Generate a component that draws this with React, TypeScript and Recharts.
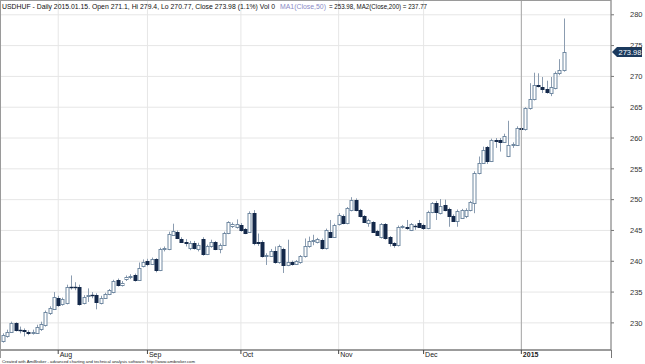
import React from 'react';
import { ComposedChart, Bar, XAxis, YAxis, CartesianGrid, ReferenceLine } from 'recharts';

// USDHUF daily, 2014.07.15 - 2015.01.15
const OPEN = [
  227.0, 227.8, 228.6, 230.0, 228.9, 228.8, 228.6, 228.3, 228.4, 229.0,
  229.7, 231.6, 232.3, 234.0, 233.1, 233.3, 235.8, 235.9, 235.9, 233.3,
  234.3, 234.5, 234.6, 233.3, 234.1, 234.7, 235.0, 236.9, 236.1, 237.2,
  237.4, 237.7, 237.0, 239.2, 240.1, 239.6, 240.3, 238.6, 242.0, 242.0,
  244.3, 244.8, 243.6, 243.1, 242.2, 243.0, 242.0, 243.6, 241.2, 242.4,
  243.1, 242.0, 242.7, 244.6, 245.7, 245.6, 245.9, 245.2, 244.8, 247.8,
  243.2, 243.2, 240.9, 240.9, 241.7, 239.8, 242.0, 239.4, 239.9, 239.6,
  239.8, 240.8, 242.4, 243.3, 243.2, 243.5, 242.1, 244.8, 244.0, 246.0,
  247.4, 246.2, 248.3, 250.0, 248.3, 247.3, 246.2, 246.3, 244.9, 243.9,
  246.0, 243.9, 242.9, 242.7, 245.6, 245.6, 245.1, 245.7, 246.2, 245.9,
  245.4, 248.0, 249.4, 247.8, 249.2, 248.5, 247.4, 246.6, 247.1, 247.3,
  248.3, 249.5, 254.3, 256.0, 258.5, 256.3, 259.6, 259.7, 259.4, 257.1,
  258.9, 258.9, 261.6, 261.4, 264.8, 266.3, 268.6, 268.3, 267.9, 267.3,
  268.1, 270.5, 271.1,
];
const HIGH = [
  228.3, 228.9, 230.2, 230.1, 229.4, 229.1, 228.8, 228.9, 229.7, 230.2,
  232.0, 232.7, 235.0, 234.4, 234.1, 236.2, 237.7, 236.6, 236.2, 234.5,
  235.6, 235.0, 234.8, 234.4, 234.9, 235.5, 237.0, 237.2, 236.8, 237.7,
  237.9, 238.0, 239.8, 240.3, 240.4, 240.6, 240.5, 242.2, 242.4, 244.8,
  246.1, 245.0, 243.9, 243.6, 243.3, 243.3, 243.0, 243.9, 242.7, 243.5,
  243.3, 242.9, 244.8, 246.5, 246.3, 246.8, 246.2, 245.4, 248.1, 248.3,
  244.5, 243.4, 241.3, 242.0, 242.4, 242.7, 242.2, 243.5, 240.1, 240.2,
  241.0, 243.7, 244.0, 244.3, 243.8, 243.7, 245.3, 246.7, 246.1, 247.8,
  247.6, 248.8, 250.4, 250.2, 248.5, 247.5, 246.9, 246.5, 245.1, 246.2,
  246.2, 244.1, 243.1, 245.8, 245.9, 246.7, 246.2, 246.0, 246.7, 246.1,
  248.2, 249.6, 249.8, 250.1, 250.0, 248.7, 247.6, 248.4, 248.5, 248.6,
  249.8, 254.6, 257.0, 258.6, 258.7, 259.9, 260.0, 260.0, 260.7, 262.8,
  259.3, 261.9, 261.8, 265.0, 268.9, 270.6, 270.5, 269.9, 269.3, 269.9,
  270.8, 272.8, 279.4,
];
const LOW = [
  226.8, 227.6, 228.4, 228.6, 228.3, 227.8, 228.0, 228.1, 228.2, 228.7,
  229.4, 231.3, 232.1, 232.6, 232.8, 233.0, 235.4, 235.3, 232.8, 233.0,
  233.4, 234.0, 232.2, 233.0, 233.9, 234.5, 234.8, 235.9, 235.9, 236.8,
  237.1, 236.7, 236.8, 239.0, 239.2, 239.4, 238.2, 238.4, 241.6, 241.8,
  244.1, 243.6, 243.0, 242.4, 241.8, 241.9, 241.6, 240.9, 241.0, 242.2,
  241.8, 241.3, 242.5, 244.4, 245.4, 245.3, 244.8, 244.4, 244.6, 242.6,
  242.5, 240.6, 239.4, 240.7, 239.6, 239.6, 238.1, 239.2, 239.3, 239.4,
  239.6, 240.6, 242.2, 242.6, 242.9, 241.9, 241.9, 243.8, 243.8, 245.8,
  246.0, 246.0, 248.1, 248.1, 247.1, 246.2, 245.6, 244.6, 244.1, 243.7,
  243.5, 242.4, 242.2, 242.4, 245.3, 245.1, 244.9, 245.1, 245.4, 245.1,
  245.2, 247.8, 246.7, 247.6, 248.1, 245.6, 246.4, 245.6, 246.9, 247.0,
  248.1, 247.8, 254.1, 255.8, 255.8, 256.1, 258.4, 257.8, 259.2, 256.9,
  258.4, 258.7, 261.3, 261.2, 264.6, 266.1, 268.2, 267.3, 267.2, 266.8,
  267.9, 270.2, 270.77,
];
const CLOSE = [
  228.0, 228.6, 230.0, 228.9, 228.8, 228.7, 228.3, 228.6, 229.4, 229.9,
  231.8, 232.4, 234.2, 232.9, 233.8, 235.8, 235.9, 235.8, 233.1, 234.2,
  234.5, 234.6, 233.4, 234.1, 234.7, 235.3, 236.8, 236.1, 236.5, 237.5,
  237.6, 236.9, 238.9, 239.8, 239.5, 240.3, 238.6, 242.0, 242.1, 244.5,
  244.9, 243.8, 243.2, 243.0, 243.0, 242.2, 242.7, 241.1, 242.5, 243.1,
  242.0, 242.7, 244.6, 246.3, 246.0, 246.0, 245.1, 244.6, 247.8, 242.9,
  242.9, 240.9, 241.0, 241.7, 239.8, 242.4, 239.4, 239.8, 239.6, 240.0,
  240.8, 242.4, 243.3, 243.4, 243.6, 242.1, 245.1, 244.0, 245.9, 247.5,
  246.2, 248.6, 250.0, 248.3, 247.3, 246.4, 246.7, 244.8, 244.3, 246.0,
  243.7, 242.9, 242.6, 245.6, 245.7, 245.4, 246.0, 245.8, 245.6, 245.4,
  248.0, 249.4, 248.0, 248.9, 248.3, 247.3, 246.6, 248.2, 248.3, 248.4,
  249.6, 254.4, 256.0, 258.1, 256.3, 259.7, 259.5, 259.3, 260.3, 258.9,
  259.0, 261.6, 261.5, 264.8, 266.3, 268.6, 268.4, 268.0, 267.4, 268.2,
  270.5, 271.1, 273.98,
];

const MONTH_LABELS = ['Aug', 'Sep', 'Oct', 'Nov', 'Dec', '2015'];
const MONTH_START = [13, 34, 56, 79, 99, 122];
const PRICE_TICKS = [230, 235, 240, 245, 250, 255, 260, 265, 270, 275, 280];

const LAST_CLOSE = CLOSE[CLOSE.length - 1];

const data = OPEN.map((o, i) => ({
  idx: i,
  open: o,
  high: HIGH[i],
  low: LOW[i],
  close: CLOSE[i],
  range: [LOW[i], HIGH[i]],
}));

const W = 645;
const H = 364;
const PLOT_RIGHT = 611;
const PLOT_BOTTOM = 350;

const UP_STROKE = '#7189a2';
const WICK = '#8b9cb0';
const DOWN_FILL = '#14294a';

const Candle = (props: any) => {
  const { x, y, width, height, payload } = props;
  if (height == null || !payload) return null;
  const { open, close, high, low } = payload;
  const top = Math.min(y, y + height);
  const h = Math.abs(height);
  const px = (v: number) => (high === low ? top : top + ((high - v) / (high - low)) * h);
  const cx = Math.round(x + width / 2) + 0.5;
  const up = close >= open;
  const bTop = Math.round(px(Math.max(open, close))) + 0.5;
  const bBot = Math.round(px(Math.min(open, close))) + 0.5;
  const bodyH = bBot - bTop;
  return (
    <g>
      <line x1={cx} x2={cx} y1={top} y2={top + h} stroke={WICK} strokeWidth={1} />
      {bodyH < 1 ? (
        <line x1={cx - 2} x2={cx + 2} y1={bTop} y2={bTop} stroke={DOWN_FILL} strokeWidth={1.4} />
      ) : (
        <rect
          x={cx - 1.5}
          y={bTop}
          width={3}
          height={bodyH}
          fill={up ? '#ffffff' : DOWN_FILL}
          stroke={up ? UP_STROKE : DOWN_FILL}
          strokeWidth={1}
        />
      )}
    </g>
  );
};

const MonthTick = (props: any) => {
  const { x, payload } = props;
  const k = MONTH_START.indexOf(payload.value);
  if (k < 0) return null;
  return (
    <g>
      <line x1={x} x2={x} y1={PLOT_BOTTOM} y2={PLOT_BOTTOM + 4} stroke="#444" />
      <text
        x={x + 1.5}
        y={PLOT_BOTTOM + 6.5}
        fontSize={7}
        fontWeight={k === MONTH_LABELS.length - 1 ? 'bold' : 'normal'}
        fill="#222"
        fontFamily="'Liberation Sans', Arial, sans-serif"
      >
        {MONTH_LABELS[k]}
      </text>
    </g>
  );
};

const PriceTag = (props: any) => {
  const vb = props.viewBox || {};
  const y = vb.y;
  if (y == null) return null;
  const x0 = (vb.x ?? 0) + (vb.width ?? PLOT_RIGHT) + 1;
  return (
    <g>
      <polygon
        points={`${x0},${y} ${x0 + 5},${y - 5} ${x0 + 30},${y - 5} ${x0 + 30},${y + 5} ${x0 + 5},${y + 5}`}
        fill="#1b3a5e"
      />
      <text
        x={x0 + 18}
        y={y + 2.7}
        fontSize={7.5}
        textAnchor="middle"
        fill="#ffffff"
        fontFamily="'Liberation Sans', Arial, sans-serif"
      >
        {LAST_CLOSE.toFixed(2)}
      </text>
    </g>
  );
};

export default function App() {
  const font = "'Liberation Sans', Arial, sans-serif";
  return (
    <div style={{ position: 'absolute', left: 0, top: 0, width: W, height: H, background: '#fff' }}>
      <ComposedChart
        width={W}
        height={H}
        data={data}
        margin={{ top: 0, right: 0, bottom: 0, left: 0 }}
      >
        <CartesianGrid stroke="#e6e6e6" strokeWidth={1} />
        <XAxis
          dataKey="idx"
          type="number"
          domain={[-0.7, 143.1]}
          ticks={MONTH_START}
          interval={0}
          height={H - PLOT_BOTTOM}
          tickLine={false}
          tickSize={0}
          axisLine={{ stroke: '#444' }}
          tick={<MonthTick />}
        />
        <YAxis
          orientation="right"
          type="number"
          domain={[225.6, 282.4]}
          ticks={PRICE_TICKS}
          width={W - PLOT_RIGHT}
          axisLine={{ stroke: '#777' }}
          tickLine={{ stroke: '#777' }}
          tickSize={3}
          tickMargin={16}
          tick={{ fontSize: 7.5, fill: '#333', fontFamily: font }}
        />
        <ReferenceLine x={MONTH_START[MONTH_START.length - 1]} stroke="#a8a8a8" />
        <Bar dataKey="range" barSize={4} shape={<Candle />} isAnimationActive={false} />
        <ReferenceLine y={LAST_CLOSE} stroke="none" label={<PriceTag />} />
      </ComposedChart>
      <svg
        width={W}
        height={H}
        style={{ position: 'absolute', left: 0, top: 0, pointerEvents: 'none' }}
      >
        <line x1={0.5} x2={0.5} y1={0} y2={PLOT_BOTTOM + 8} stroke="#9a9a9a" />
        <line x1={0} x2={PLOT_RIGHT} y1={0.5} y2={0.5} stroke="#9a9a9a" />
        <line x1={PLOT_RIGHT + 0.5} x2={PLOT_RIGHT + 0.5} y1={PLOT_BOTTOM} y2={PLOT_BOTTOM + 8} stroke="#777" />
        <text x={2} y={8.5} fontSize={7} fill="#111" fontFamily={font} textLength={273} lengthAdjust="spacingAndGlyphs">
          USDHUF - Daily 2015.01.15. Open 271.1, Hi 279.4, Lo 270.77, Close 273.98 (1.1%) Vol 0
        </text>
        <text x={280} y={8.5} fontSize={7} fill="#8a8ac6" fontFamily={font} textLength={46} lengthAdjust="spacingAndGlyphs">
          MA1(Close,50)
        </text>
        <text x={329} y={8.5} fontSize={7} fill="#111" fontFamily={font} textLength={98} lengthAdjust="spacingAndGlyphs">
          = 253.98, MA2(Close,200) = 237.77
        </text>
        <text x={2} y={362.5} fontSize={4.3} fill="#222" fontFamily={font} textLength={193} lengthAdjust="spacingAndGlyphs">
          Created with AmiBroker - advanced charting and technical analysis software. http://www.amibroker.com
        </text>
      </svg>
    </div>
  );
}
